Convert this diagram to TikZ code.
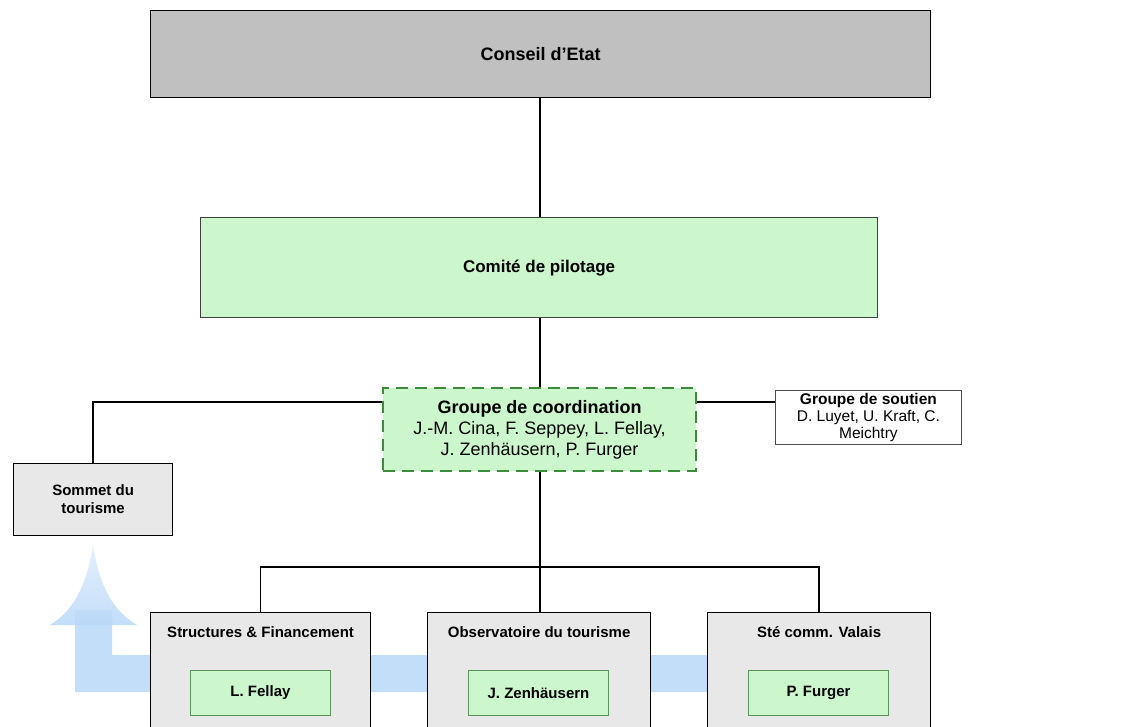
\documentclass[tikz,border=0pt]{standalone}
\usepackage{fontspec}
\setmainfont{Liberation Sans}
\usepackage{tikz}

\definecolor{boxgray}{RGB}{192,192,192}
\definecolor{lightgray}{RGB}{232,232,232}
\definecolor{paleGreen}{RGB}{204,247,204}
\definecolor{dashGreen}{RGB}{60,140,60}
\definecolor{innerEdge}{RGB}{90,150,90}
\definecolor{flowBlue}{RGB}{184,216,248}

\tikzset{
  orgbox/.style={draw=black, line width=1.2pt, inner sep=0pt, anchor=north west, align=center},
  link/.style={line width=1.3pt},
  titletext/.style={inner sep=0pt, font=\fontsize{15}{17}\selectfont\bfseries}
}

\begin{document}
\begin{tikzpicture}[x=1pt,y=-1pt]
\useasboundingbox (0,0) rectangle (1140,727);

%Blue flow band and arrow
\fill [flowBlue, opacity=0.85] (75,610) -- (112,610) -- (112,655) -- (750,655) -- (750,692) -- (75,692) -- cycle ;
\shade [top color=flowBlue!45, bottom color=flowBlue, opacity=0.85] (93,545) .. controls (100,590) and (115,612) .. (137,625) -- (50,625) .. controls (71,612) and (86,590) .. (93,545) -- cycle ;

%Top boxes
\node [orgbox, fill=boxgray, minimum width=780pt, minimum height=87pt, font=\fontsize{18}{20}\selectfont\bfseries] (conseil) at (150,10) {Conseil d'Etat};
\node [orgbox, draw=black!75, fill=paleGreen, minimum width=677pt, minimum height=100pt, font=\fontsize{17}{19}\selectfont\bfseries] (comite) at (200,217) {Comité de pilotage};

%Coordination group
\node [orgbox, draw=dashGreen, dash pattern=on 12pt off 7pt, line width=2pt, fill=paleGreen, minimum width=313pt, minimum height=83pt, font=\fontsize{18}{21}\selectfont] (coord) at (382,387) {\textbf{Groupe de coordination}\\J.-M. Cina, F. Seppey, L. Fellay,\\J. Zenhäusern, P. Furger};

%Side boxes
\node [orgbox, draw=black!70, line width=0.8pt, fill=white, minimum width=186pt, minimum height=54pt, font=\fontsize{15.5}{17}\selectfont] (soutien) at (775,390) {\textbf{Groupe de soutien}\\D. Luyet, U. Kraft, C.\\Meichtry};
\node [orgbox, fill=lightgray, minimum width=159pt, minimum height=72pt, font=\fontsize{15}{18}\selectfont\bfseries] (sommet) at (13,463) {Sommet du\\tourisme};

%Bottom boxes
\node [orgbox, fill=lightgray, minimum width=220pt, minimum height=140pt] (struct) at (150,612) {};
\node [orgbox, fill=lightgray, minimum width=223pt, minimum height=140pt] (observ) at (427,612) {};
\node [orgbox, fill=lightgray, minimum width=223pt, minimum height=140pt] (stecomm) at (707,612) {};

\node [titletext, anchor=north] (structT) at ([yshift=-14pt]struct.north) {Structures \& Financement};
\node [titletext, anchor=north] (observT) at ([yshift=-14pt]observ.north) {Observatoire du tourisme};
\node [titletext, anchor=north] (stecommT) at ([yshift=-14pt]stecomm.north) {Sté comm. Valais};

%Inner green boxes
\node [orgbox, draw=innerEdge, line width=1pt, fill=paleGreen, minimum width=140pt, minimum height=45pt, font=\fontsize{15}{17}\selectfont\bfseries] (fellay) at (190,670) {L. Fellay};
\node [orgbox, draw=innerEdge, line width=1pt, fill=paleGreen, minimum width=140pt, minimum height=45pt, font=\fontsize{15}{17}\selectfont\bfseries] (zenh) at (468,670) {J. Zenhäusern};
\node [orgbox, draw=innerEdge, line width=1pt, fill=paleGreen, minimum width=140pt, minimum height=45pt, font=\fontsize{15}{17}\selectfont\bfseries] (furger) at (748,670) {P. Furger};

%Connectors
\coordinate (split) at (540,567);
\coordinate (side) at (540,402);
\draw [link] (conseil.south -| split) -- (comite.north -| split) ;
\draw [link] (comite.south -| split) -- (coord.north -| split) ;
\draw [link] (coord.south -| split) -- (split) ;
\draw [link] (coord.east |- side) -- (soutien.west |- side) ;
\draw [link] (coord.west |- side) -| (sommet.north) ;
\draw [link] (split) -| (struct.north) ;
\draw [link] (split) -| (stecomm.north) ;
\draw [link] (split) -- (observ.north -| split) ;

\end{tikzpicture}
\end{document}
